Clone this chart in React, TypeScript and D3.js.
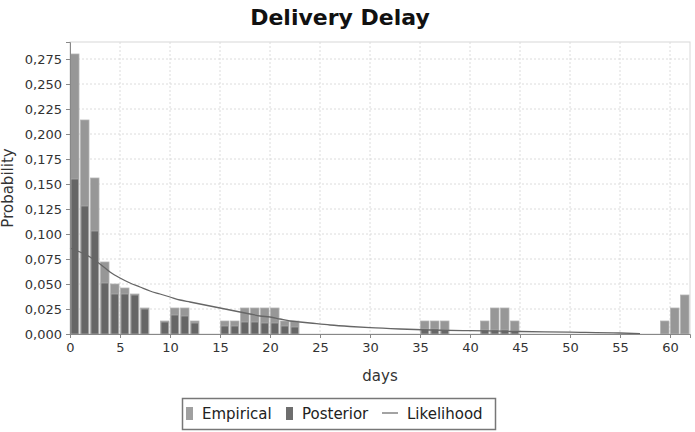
import React, { useEffect, useRef } from "react";
import * as d3 from "d3";

// days 0..61
const days = d3.range(0, 62);

// empirical frequency per day (light bars)
const empirical = [
  0.28, 0.214, 0.156, 0.072, 0.05, 0.046, 0.04, 0.026, 0, 0.013,
  0.026, 0.026, 0.013, 0, 0, 0.013, 0.013, 0.026, 0.026, 0.026,
  0.026, 0.013, 0.013, 0, 0, 0, 0, 0, 0, 0,
  0, 0, 0, 0, 0, 0.013, 0.013, 0.013, 0, 0,
  0, 0.013, 0.026, 0.026, 0.013, 0, 0, 0, 0, 0,
  0, 0, 0, 0, 0, 0, 0, 0, 0, 0.013,
  0.026, 0.039
];

// posterior per day (dark bars)
const posterior = [
  0.155, 0.128, 0.103, 0.051, 0.04, 0.04, 0.039, 0.025, 0, 0.012,
  0.019, 0.018, 0.011, 0, 0, 0.008, 0.008, 0.012, 0.012, 0.011,
  0.011, 0.008, 0.007, 0, 0, 0, 0, 0, 0, 0,
  0, 0, 0, 0, 0, 0.005, 0.005, 0.004, 0, 0,
  0, 0.004, 0.004, 0.004, 0.003, 0, 0, 0, 0, 0,
  0, 0, 0, 0, 0, 0, 0, 0, 0, 0,
  0, 0
];

// likelihood curve [day, p]
const likelihood = [
  [0, 0.086], [1, 0.082], [2, 0.077], [3, 0.07], [4, 0.062], [5, 0.056],
  [6, 0.051], [7, 0.047], [8, 0.043], [9, 0.04], [10, 0.037], [11, 0.034],
  [12, 0.032], [13, 0.03], [14, 0.028], [15, 0.026], [16, 0.024], [17, 0.022],
  [18, 0.02], [19, 0.018], [20, 0.017], [21, 0.015], [22, 0.013], [23, 0.012],
  [24, 0.011], [26, 0.009], [28, 0.0075], [30, 0.0063], [33, 0.005], [36, 0.004],
  [40, 0.0033], [45, 0.0025], [50, 0.0018], [55, 0.001], [57, 0.0003]
];

const xTicks = d3.range(0, 61, 5);
const yTicks = d3.range(0, 0.276, 0.025);

const App = () => {
  const ref = useRef(null);
  const width = 695;
  const height = 432;
  const left = 70, right = 690, top = 42, bottom = 334;

  useEffect(() => {
    const svg = d3.select(ref.current);
    svg.selectAll("*").remove();

    const x = d3.scaleLinear().domain([0, 62]).range([left, right]);
    const y = d3.scaleLinear().domain([0, 0.292]).range([bottom, top]);
    const font = "DejaVu Sans, Verdana, sans-serif";

    svg.append("rect")
      .attr("x", left).attr("y", top)
      .attr("width", right - left).attr("height", bottom - top)
      .attr("fill", "#fff")
      .attr("stroke", "#d8d8d8");

    // grid
    svg.append("g").selectAll("line").data(yTicks.slice(1)).enter().append("line")
      .attr("x1", left).attr("x2", right)
      .attr("y1", d => y(d)).attr("y2", d => y(d))
      .attr("stroke", "#dcdcdc").attr("stroke-dasharray", "2,2");
    svg.append("g").selectAll("line").data(xTicks.slice(1)).enter().append("line")
      .attr("x1", d => x(d)).attr("x2", d => x(d))
      .attr("y1", top).attr("y2", bottom)
      .attr("stroke", "#dcdcdc").attr("stroke-dasharray", "2,2");

    // bars
    const bw = x(1) - x(0);
    svg.append("g").selectAll("rect").data(days.filter(d => empirical[d] > 0)).enter().append("rect")
      .attr("x", d => x(d) + 0.5).attr("width", bw - 1.5)
      .attr("y", d => y(empirical[d])).attr("height", d => bottom - y(empirical[d]))
      .attr("fill", "#979797").attr("stroke", "#b4b4b4").attr("stroke-width", 0.8);
    svg.append("g").selectAll("rect").data(days.filter(d => posterior[d] > 0)).enter().append("rect")
      .attr("x", d => x(d) + 1).attr("width", bw - 2.5)
      .attr("y", d => y(posterior[d])).attr("height", d => bottom - y(posterior[d]))
      .attr("fill", "#666").attr("stroke", "#a8a8a8").attr("stroke-width", 0.8);

    // likelihood
    const line = d3.line().x(d => x(d[0])).y(d => y(d[1])).curve(d3.curveMonotoneX);
    svg.append("path").datum(likelihood)
      .attr("d", line).attr("fill", "none")
      .attr("stroke", "#666").attr("stroke-width", 1.3);

    // axes
    const xa = svg.append("g").attr("transform", `translate(0,${bottom})`)
      .call(d3.axisBottom(x).tickValues(xTicks).tickSize(4).tickPadding(5));
    const ya = svg.append("g").attr("transform", `translate(${left},0)`)
      .call(d3.axisLeft(y).tickValues(yTicks).tickSize(4).tickPadding(4)
        .tickFormat(d => d3.format(".3f")(d).replace(".", ",")));
    [xa, ya].forEach(a => {
      a.select(".domain").attr("stroke", "#888");
      a.selectAll(".tick line").attr("stroke", "#888");
      a.selectAll("text").attr("font-family", font).attr("font-size", 13).attr("fill", "#333");
    });

    svg.append("text")
      .attr("x", (left + right) / 2).attr("y", 381)
      .attr("text-anchor", "middle").attr("font-family", font).attr("font-size", 15)
      .attr("fill", "#333").text("days");
    svg.append("text")
      .attr("transform", `translate(13,${(top + bottom) / 2}) rotate(-90)`)
      .attr("text-anchor", "middle").attr("font-family", font).attr("font-size", 15)
      .attr("fill", "#333").text("Probability");

    svg.append("text")
      .attr("x", 340).attr("y", 25)
      .attr("text-anchor", "middle").attr("font-family", font).attr("font-size", 22)
      .attr("font-weight", "bold").attr("fill", "#111").text("Delivery Delay");

    // legend
    const lg = svg.append("g");
    lg.append("rect").attr("x", 182.5).attr("y", 398.5).attr("width", 313).attr("height", 31)
      .attr("fill", "#fff").attr("stroke", "#777").attr("stroke-width", 1.5);
    lg.append("rect").attr("x", 186).attr("y", 407).attr("width", 7).attr("height", 13).attr("fill", "#a0a0a0");
    lg.append("rect").attr("x", 286).attr("y", 407).attr("width", 7).attr("height", 13).attr("fill", "#6e6e6e");
    lg.append("line").attr("x1", 382).attr("x2", 398).attr("y1", 413).attr("y2", 413)
      .attr("stroke", "#666").attr("stroke-width", 1.2);
    const items = [["Empirical", 202], ["Posterior", 302], ["Likelihood", 407]];
    lg.selectAll("text.l").data(items).enter().append("text")
      .attr("x", d => d[1]).attr("y", 419)
      .attr("font-family", font).attr("font-size", 15).attr("fill", "#222")
      .text(d => d[0]);
  }, []);

  return (
    <svg ref={ref} width={width} height={height}
      style={{ position: "absolute", left: 0, top: 0, background: "#fff" }} />
  );
};

export default App;
